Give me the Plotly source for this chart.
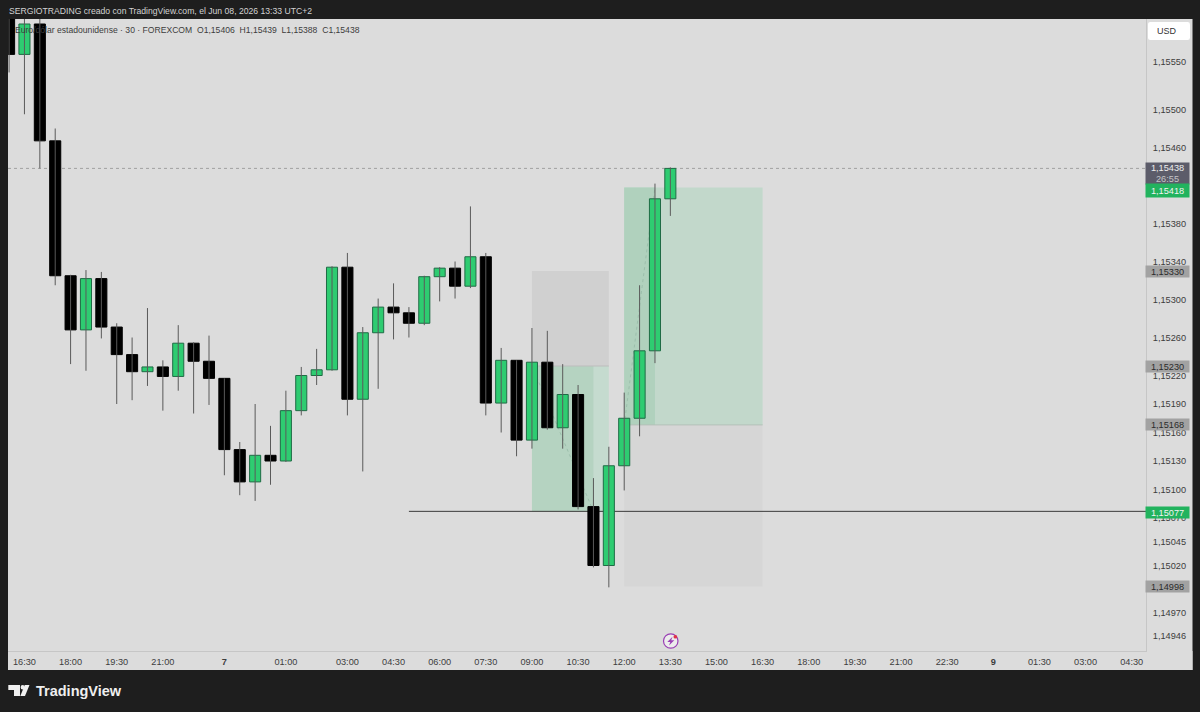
import plotly.graph_objects as go

W, H = 1200, 712
L, R, T, B = 8, 1146, 19, 651

# ---------- data ----------
opens = [1.15605,1.15558,1.15590,1.15467,1.15325,1.15268,1.15322,1.15271,1.15242,1.15224,1.15229,
         1.15219,1.15254,1.15235,1.15217,1.15142,1.15108,1.15136,1.15130,1.15183,1.15220,1.15226,
         1.15334,1.15195,1.15265,1.15292,1.15286,1.15275,1.15324,1.15333,1.15314,1.15345,1.15191,
         1.15236,1.15152,1.15234,1.15165,1.15200,1.15082,1.15020,1.15125,1.15175,1.15246,1.15406]
highs = [1.15620,1.15610,1.15610,1.15480,1.15326,1.15331,1.15329,1.15275,1.15260,1.15291,1.15236,
         1.15273,1.15255,1.15262,1.15217,1.15150,1.15190,1.15167,1.15204,1.15229,1.15248,1.15335,
         1.15349,1.15271,1.15301,1.15317,1.15292,1.15325,1.15334,1.15340,1.15398,1.15349,1.15249,
         1.15236,1.15270,1.15267,1.15232,1.15210,1.15112,1.15145,1.15202,1.15315,1.15422,1.15439]
lows  = [1.15539,1.15495,1.15438,1.15315,1.15232,1.15225,1.15259,1.15190,1.15194,1.15209,1.15183,
         1.15204,1.15180,1.15189,1.15115,1.15094,1.15088,1.15105,1.15129,1.15178,1.15210,1.15225,
         1.15178,1.15119,1.15206,1.15258,1.15260,1.15273,1.15298,1.15301,1.15312,1.15178,1.15160,
         1.15135,1.15143,1.15163,1.15143,1.15079,1.15018,1.14997,1.15099,1.15156,1.15233,1.15388]
closes= [1.15558,1.15590,1.15467,1.15325,1.15268,1.15322,1.15271,1.15242,1.15224,1.15229,1.15219,
         1.15254,1.15235,1.15217,1.15142,1.15108,1.15136,1.15130,1.15183,1.15220,1.15226,1.15334,
         1.15195,1.15265,1.15292,1.15286,1.15275,1.15324,1.15333,1.15314,1.15345,1.15191,1.15236,
         1.15152,1.15234,1.15165,1.15200,1.15082,1.15020,1.15125,1.15175,1.15246,1.15406,1.15438]

price_ticks = [1.15550,1.15500,1.15460,1.15380,1.15340,1.15300,1.15260,1.15220,1.15190,1.15160,
               1.15130,1.15100,1.15070,1.15045,1.15020,1.14970,1.14946]
time_tick_pos = [1,4,7,10,14,18,22,25,28,31,34,37,40,43,46,49,52,55,58,61,64,67,70,73]
time_tick_txt = ["16:30","18:00","19:30","21:00","<b>7</b>","01:00","03:00","04:30","06:00","07:30",
                 "09:00","10:30","12:00","13:30","15:00","16:30","18:00","19:30","21:00","22:30",
                 "<b>9</b>","01:30","03:00","04:30"]

# position tools: (start, hit bar, end, target, entry, stop)
pos1 = (34, 38, 39, 1.15077, 1.15230, 1.15330)
pos2 = (40, 42, 49, 1.15418, 1.15168, 1.14998)
level_price = 1.15077
level_start = 26
last_price = 1.15438

FONT = "Liberation Sans"
TXT = "#3c3c3c"
BG = "#dcdcdc"
FRAME = "#1e1e1e"
GREEN = "#2ecc71"
GREEN_EDGE = "#1f6b45"

def fmt(p):
    return f"{p:.5f}".replace(".", ",")

def px(x):
    return (x - L) / (R - L)

def py(y):
    return (B - y) / (B - T)

idx = list(range(len(opens)))
up = [i for i in idx if closes[i] >= opens[i]]
dn = [i for i in idx if closes[i] < opens[i]]

wx, wy = [], []
for i in idx:
    wx += [i, i, None]
    wy += [lows[i], highs[i], None]

fig = go.Figure()
fig.add_trace(go.Scatter(x=wx, y=wy, mode="lines", line=dict(color="#5a5a5a", width=1),
                         hoverinfo="skip", showlegend=False))
fig.add_trace(go.Bar(x=dn, base=[closes[i] for i in dn], y=[opens[i]-closes[i] for i in dn],
                     width=0.72, marker=dict(color="#000000", line=dict(color="#000000", width=1)),
                     showlegend=False))
fig.add_trace(go.Bar(x=up, base=[opens[i] for i in up], y=[closes[i]-opens[i] for i in up],
                     width=0.72, marker=dict(color=GREEN, line=dict(color=GREEN_EDGE, width=1)),
                     showlegend=False))

shapes = []

def paper_rect(x0, y0, x1, y1, color, layer="below"):
    shapes.append(dict(type="rect", xref="paper", yref="paper", x0=px(x0), x1=px(x1), y0=py(y0), y1=py(y1),
                       fillcolor=color, line=dict(width=0), layer=layer))

def data_rect(x0, x1, y0, y1, color):
    shapes.append(dict(type="rect", xref="x", yref="y", x0=x0, x1=x1, y0=y0, y1=y1,
                       fillcolor=color, line=dict(width=0), layer="below"))

def paper_path(pts, color, close=True):
    d = "M " + " L ".join(f"{px(a):.5f},{py(b):.5f}" for a, b in pts) + (" Z" if close else "")
    shapes.append(dict(type="path", xref="paper", yref="paper", path=d, fillcolor=color,
                       line=dict(width=0), layer="above"))

# axis panels
paper_rect(R, T, 1192.5, 670, BG)
paper_rect(L, B, 1192.5, 670, BG)

# first position: stop (grey above), target (green below)
s, hit, e, tgt, ent, stp = pos1
data_rect(s, e, ent, stp, "#d0d0d0")
data_rect(s, e, tgt, ent, "#c5dbcf")
data_rect(s, hit, tgt, ent, "#b5d3c1")
shapes.append(dict(type="line", xref="x", yref="y", x0=s, x1=e, y0=ent, y1=ent,
                   line=dict(color="#bdbdbd", width=1), layer="below"))
shapes.append(dict(type="line", xref="x", yref="y", x0=s, x1=hit, y0=ent, y1=tgt,
                   line=dict(color="#9cbfac", width=1, dash="dot"), layer="below"))

# second position: target (green above), stop (grey below)
s, hit, e, tgt, ent, stp = pos2
data_rect(s, e, stp, ent, "#d6d6d6")
data_rect(s, e, ent, tgt, "#c2d8cb")
data_rect(s, hit, ent, tgt, "#b0d1bd")
shapes.append(dict(type="line", xref="x", yref="y", x0=s, x1=e, y0=ent, y1=ent,
                   line=dict(color="#b4c0b8", width=1), layer="below"))
shapes.append(dict(type="line", xref="x", yref="y", x0=s, x1=hit, y0=ent, y1=tgt,
                   line=dict(color="#9cbfac", width=1, dash="dot"), layer="below"))

# level and last-price line
shapes.append(dict(type="line", xref="x", yref="y", x0=level_start, x1=74, y0=level_price, y1=level_price,
                   line=dict(color="#3a3a3a", width=1), layer="below"))
shapes.append(dict(type="line", xref="paper", yref="y", x0=0, x1=1, y0=last_price, y1=last_price,
                   line=dict(color="#a0a0a0", width=1, dash="dot"), layer="below"))

# USD button (rounded)
x0, x1, y0, y1, r = 1148, 1190, 22, 40, 2.5
d = (f"M {px(x0+r):.5f},{py(y0):.5f} L {px(x1-r):.5f},{py(y0):.5f} Q {px(x1):.5f},{py(y0):.5f} {px(x1):.5f},{py(y0+r):.5f} "
     f"L {px(x1):.5f},{py(y1-r):.5f} Q {px(x1):.5f},{py(y1):.5f} {px(x1-r):.5f},{py(y1):.5f} "
     f"L {px(x0+r):.5f},{py(y1):.5f} Q {px(x0):.5f},{py(y1):.5f} {px(x0):.5f},{py(y1-r):.5f} "
     f"L {px(x0):.5f},{py(y0+r):.5f} Q {px(x0):.5f},{py(y0):.5f} {px(x0+r):.5f},{py(y0):.5f} Z")
shapes.append(dict(type="path", xref="paper", yref="paper", path=d, fillcolor="#ffffff",
                   line=dict(width=0), layer="above"))

# TradingView logo
paper_path([(8.3,685),(20,685),(20,696),(14,696),(14,690),(8.3,690)], "#f0f0f0")
shapes.append(dict(type="circle", xref="paper", yref="paper", x0=px(20.6), x1=px(24.8), y0=py(685), y1=py(689.5),
                   fillcolor="#f0f0f0", line=dict(width=0), layer="above"))
paper_path([(24.8,685),(29.5,685),(25,696),(20.3,696)], "#f0f0f0")

# lightning icon
shapes.append(dict(type="circle", xref="paper", yref="paper", x0=px(663.5), x1=px(678), y0=py(633.8), y1=py(648.2),
                   fillcolor="#ececec", line=dict(color="#9a3fb5", width=1.2), layer="above"))
paper_path([(672.5,636.8),(667.3,642),(670.3,642),(669,645.5),(674.3,640.2),(671.2,640.2)], "#9a3fb5")
shapes.append(dict(type="circle", xref="paper", yref="paper", x0=px(673.5), x1=px(677.2), y0=py(634.9), y1=py(638.6),
                   fillcolor="#e0304a", line=dict(width=0), layer="above"))

ann = []

def text_px(x, y, s, size=10, color=TXT, anchor="left"):
    ann.append(dict(xref="paper", yref="paper", x=px(x), y=py(y), text=s, showarrow=False, xanchor=anchor,
                    yanchor="middle", font=dict(family=FONT, size=size, color=color)))

def badge(price, color, tcolor="#2b2b2b", yshift=0, h=11, text=None):
    ann.append(dict(xref="paper", yref="y", x=px(1167.5), y=price, yshift=yshift,
                    text=text or fmt(price), showarrow=False, xanchor="center", yanchor="middle",
                    width=43, height=h, bgcolor=color, borderpad=0, align="center",
                    font=dict(family=FONT, size=9.2, color=tcolor)))

text_px(7, 10.5, "SERGIOTRADING creado con TradingView.com, el Jun 08, 2026 13:33 UTC+2", 8.65, "#d2d2d2")
text_px(13, 30, "Euro/dólar estadounidense · 30 · FOREXCOM  O1,15406  H1,15439  L1,15388  C1,15438", 8.6, TXT)
text_px(1155, 31, "USD", 9, "#333333")
text_px(34, 691, "<b>TradingView</b>", 14.5, "#efefef")

badge(pos1[5], "#a2a2a2")
badge(pos1[4], "#a2a2a2")
badge(pos2[4], "#a2a2a2")
badge(pos2[5], "#a2a2a2")
badge(level_price, "#22b35e", "#f2f2f2", yshift=-1)
badge(last_price, "#5c5c6a", "#ededed", yshift=-5, h=21,
      text=fmt(last_price) + "<br><span style='color:#c4c4c8'>26:55</span>")
badge(pos2[3], "#22b35e", "#f2f2f2", yshift=-3, h=13)

axis_font = dict(family=FONT, size=9.2, color=TXT)
fig.update_layout(
    width=W, height=H, autosize=False,
    margin=dict(l=L, r=W-R, t=T, b=H-B, pad=0),
    paper_bgcolor=FRAME, plot_bgcolor=BG,
    barmode="overlay", showlegend=False, dragmode=False,
    shapes=shapes, annotations=ann,
    xaxis=dict(range=[-0.07, 73.93], tickmode="array", tickvals=time_tick_pos, ticktext=time_tick_txt,
               tickangle=0, showgrid=False, zeroline=False, showline=True, linecolor="#c6c6c6", linewidth=1,
               ticks="outside", ticklen=2, tickcolor="rgba(0,0,0,0)", tickfont=axis_font, fixedrange=True),
    yaxis=dict(range=[1.1493, 1.1559526], side="right", tickmode="array", tickvals=price_ticks,
               ticktext=[fmt(p) for p in price_ticks], showgrid=False, zeroline=False, showline=True,
               linecolor="#c6c6c6", linewidth=1, ticks="outside", ticklen=4, tickcolor="rgba(0,0,0,0)",
               tickfont=axis_font, fixedrange=True),
)

fig.write_html("out.html", config={"displayModeBar": False},
               post_script="document.body.style.margin='0';")
